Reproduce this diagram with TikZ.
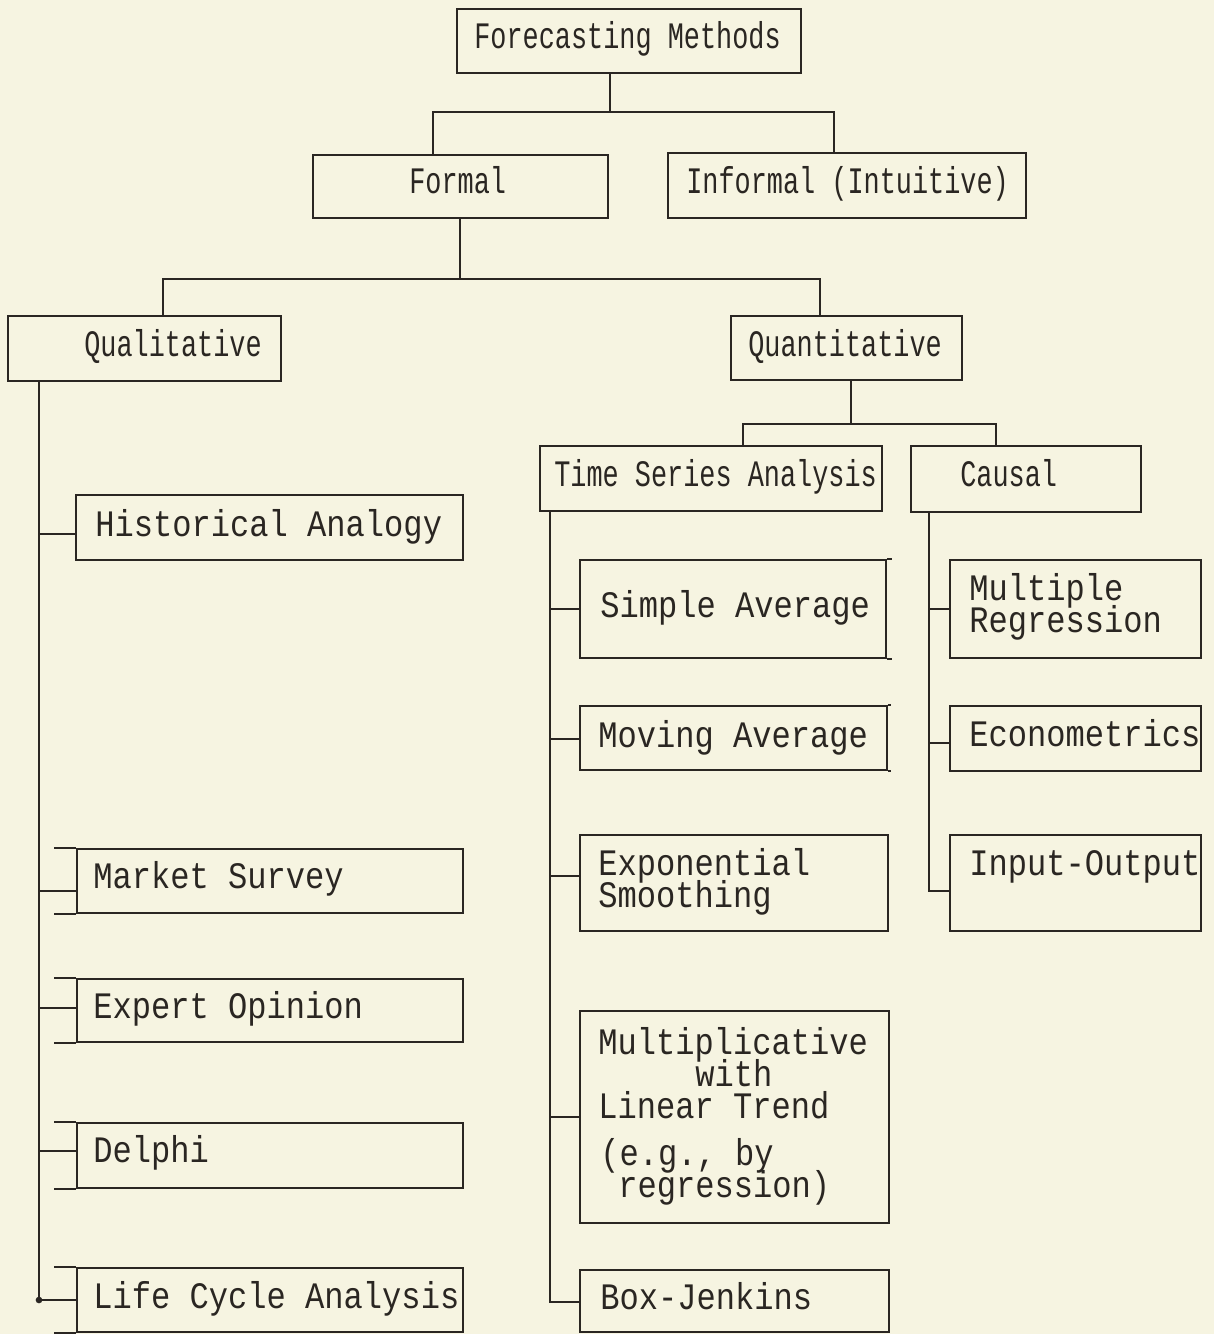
\documentclass[tikz,border=0pt]{standalone}
\usepackage{fontspec}
\usepackage{graphicx}
\usetikzlibrary{calc}
\setmonofont{Liberation Mono}
\definecolor{paper}{HTML}{F6F4E1}
\definecolor{ink}{HTML}{2A2622}
\newcommand{\upfont}{\ttfamily\fontsize{28}{30}\selectfont}
\newcommand{\lowfont}{\ttfamily\fontsize{28}{24}\selectfont\lineskiplimit=-100pt\lineskip=0pt}
\newcommand{\nrwA}[1]{\scalebox{0.72}[1]{#1}}
\newcommand{\nrwB}[1]{\scalebox{0.86}[1]{#1}}
\newcommand{\mkbox}[5]{\node[box, minimum width={(#4-#2)*0.75pt}, minimum height={(#5-#3)*0.75pt}] (#1) at ({(#2+#4)/2},{(#3+#5)/2}) {};}
\tikzset{
  box/.style={draw=ink, line width=1.4pt, inner sep=0pt, rectangle},
  ln/.style={draw=ink, line width=1.3pt},
  up/.style={font=\upfont, text=ink, inner sep=0pt, anchor=base west},
  lo/.style={font=\lowfont, text=ink, inner sep=0pt, anchor=base west, align=left},
}
\begin{document}
\begin{tikzpicture}[x=0.75pt,y=-0.75pt]
\fill[paper] (0,0) rectangle (1214,1334);
\useasboundingbox (0,0) rectangle (1214,1334);

% boxes
\mkbox{fm}{457}{9}{801}{73}
\mkbox{formal}{313}{155}{608}{218}
\mkbox{informal}{668}{153}{1026}{218}
\mkbox{qual}{8}{316}{281}{381}
\mkbox{quant}{731}{316}{962}{380}
\mkbox{ha}{76}{495}{463}{560}
\mkbox{ms}{77}{849}{463}{913}
\mkbox{eo}{77}{979}{463}{1042}
\mkbox{del}{77}{1123}{463}{1188}
\mkbox{lca}{77}{1268}{463}{1332}
\mkbox{tsa}{540}{446}{882}{511}
\mkbox{causal}{911}{446}{1141}{512}
\mkbox{sa}{580}{560}{886}{658}
\mkbox{ma}{580}{706}{887}{770}
\mkbox{es}{580}{835}{888}{931}
\mkbox{mlt}{580}{1011}{889}{1223}
\mkbox{bj}{580}{1270}{889}{1332}
\mkbox{mr}{950}{560}{1201}{658}
\mkbox{ec}{950}{706}{1201}{771}
\mkbox{io}{950}{835}{1201}{931}

% extensions of box edges
\foreach \b in {ms,eo,del,lca}{
  \draw[ln] (\b.north west) -- ++(-22,0);
  \draw[ln] (\b.south west) -- ++(-22,0);
}
\draw[ln] (sa.north east) -- ++(5,0);
\draw[ln] (sa.south east) -- ++(5,0);
\draw[ln] (ma.north east) -- ++(3,0);
\draw[ln] (ma.south east) -- ++(3,0);

% texts
\node[up] (tfm) at (474,49) {\nrwA{Forecasting Methods}};
\node[up] (tformal) at (409,194) {\nrwA{Formal}};
\node[up] (tinformal) at (686,193) {\nrwA{Informal (Intuitive)}};
\node[up] (tqual) at (84,356) {\nrwA{Qualitative}};
\node[up] (tquant) at (748,356) {\nrwA{Quantitative}};
\node[up] (ttsa) at (554,486) {\nrwA{Time Series Analysis}};
\node[up] (tcausal) at (960,486) {\nrwA{Causal}};

\node[lo] (tha) at (95,536) {\nrwB{Historical Analogy}};
\node[lo] (tms) at (93,888) {\nrwB{Market Survey}};
\node[lo] (teo) at (93,1018) {\nrwB{Expert Opinion}};
\node[lo] (tdel) at (93,1162) {\nrwB{Delphi}};
\node[lo] (tlca) at (93,1308) {\nrwB{Life Cycle Analysis}};
\node[lo] (tsimp) at (600,617) {\nrwB{Simple Average}};
\node[lo] (tmov) at (598,747) {\nrwB{Moving Average}};
\node[lo] (texp) at (598,907) {\nrwB{Exponential}\\\nrwB{Smoothing}};
\node[lo] (tmul) at (598,1197) {\nrwB{Multiplicative}\\\hspace*{72.75pt}\nrwB{with}\\\nrwB{Linear Trend}\\[11.25pt]\hspace*{1.5pt}\nrwB{(e.g., by}\\\hspace*{15pt}\nrwB{regression)}};
\node[lo] (tbj) at (600,1309) {\nrwB{Box-Jenkins}};
\node[lo] (tmr) at (969,632) {\nrwB{Multiple}\\\nrwB{Regression}};
\node[lo] (tec) at (969,746) {\nrwB{Econometrics}};
\node[lo] (tio) at (969,875) {\nrwB{Input-Output}};

% junction coordinates
\coordinate (j1) at (610,112);
\coordinate (cA) at (433,112);
\coordinate (cB) at (834,112);
\coordinate (j2) at (460,279);
\coordinate (cC) at (163,279);
\coordinate (cD) at (820,279);
\coordinate (j3) at (851,424);
\coordinate (cE) at (743,424);
\coordinate (cF) at (996,424);
\coordinate (qt) at (39,381);
\coordinate (tt) at (550,511);
\coordinate (ct) at (929,512);

% level 1
\draw[ln] (j1 |- fm.south) -- (j1);
\draw[ln] (cA |- formal.north) -- (cA) -- (cB) -- (cB |- informal.north);
% level 2
\draw[ln] (j2 |- formal.south) -- (j2);
\draw[ln] (cC |- qual.north) -- (cC) -- (cD) -- (cD |- quant.north);
% level 3
\draw[ln] (j3 |- quant.south) -- (j3);
\draw[ln] (cE |- tsa.north) -- (cE) -- (cF) -- (cF |- causal.north);

% qualitative trunk
\draw[ln] (qt |- qual.south) -- (39,1300) -- (lca.west |- 0,1300);
\fill[ink] (39,1300) circle (2.5pt);
\draw[ln] (39,534) -- (ha.west |- 0,534);
\draw[ln] (39,891) -- (ms.west |- 0,891);
\draw[ln] (39,1008) -- (eo.west |- 0,1008);
\draw[ln] (39,1151) -- (del.west |- 0,1151);

% time series trunk
\draw[ln] (tt |- tsa.south) -- (550,1302) -- (bj.west |- 0,1302);
\draw[ln] (550,609) -- (sa.west |- 0,609);
\draw[ln] (550,739) -- (ma.west |- 0,739);
\draw[ln] (550,876) -- (es.west |- 0,876);
\draw[ln] (550,1117) -- (mlt.west |- 0,1117);

% causal trunk
\draw[ln] (ct |- causal.south) -- (929,891) -- (io.west |- 0,891);
\draw[ln] (929,609) -- (mr.west |- 0,609);
\draw[ln] (929,743) -- (ec.west |- 0,743);
\end{tikzpicture}
\end{document}
